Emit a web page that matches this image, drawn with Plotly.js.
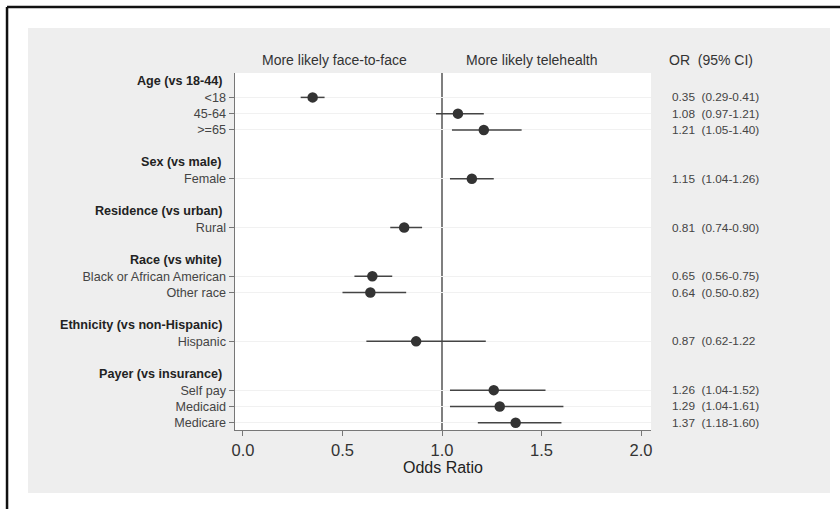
<!DOCTYPE html>
<html><head><meta charset="utf-8">
<script src="https://cdn.plot.ly/plotly-3.0.1.min.js"></script>
<style>html,body{margin:0;padding:0;background:#fff}</style>
</head><body><div id="chart" style="width:840px;height:509px"></div>
<script>
// Groups (header rows) and items
const groupHeaders = ["Age (vs 18-44)", "Sex (vs male)", "Residence (vs urban)", "Race (vs white)", "Ethnicity (vs non-Hispanic)", "Payer (vs insurance)"];
const groupRows = [0, 5, 8, 11, 15, 18];
const labels = ["<18", "45-64", ">=65", "Female", "Rural", "Black or African American", "Other race", "Hispanic", "Self pay", "Medicaid", "Medicare"];
const rows = [1, 2, 3, 6, 9, 12, 13, 16, 19, 20, 21];
const orValues = [0.35, 1.08, 1.21, 1.15, 0.81, 0.65, 0.64, 0.87, 1.26, 1.29, 1.37];
const ciLow = [0.29, 0.97, 1.05, 1.04, 0.74, 0.56, 0.50, 0.62, 1.04, 1.04, 1.18];
const ciHigh = [0.41, 1.21, 1.40, 1.26, 0.90, 0.75, 0.82, 1.22, 1.52, 1.61, 1.60];
const orText = ["0.35\u00a0\u00a0(0.29-0.41)", "1.08\u00a0\u00a0(0.97-1.21)", "1.21\u00a0\u00a0(1.05-1.40)", "1.15\u00a0\u00a0(1.04-1.26)", "0.81\u00a0\u00a0(0.74-0.90)", "0.65\u00a0\u00a0(0.56-0.75)", "0.64\u00a0\u00a0(0.50-0.82)", "0.87\u00a0\u00a0(0.62-1.22", "1.26\u00a0\u00a0(1.04-1.52)", "1.29\u00a0\u00a0(1.04-1.61)", "1.37\u00a0\u00a0(1.18-1.60)"];
const xTicks = [0, 0.5, 1, 1.5, 2];
const xTickText = ["0.0", "0.5", "1.0", "1.5", "2.0"];

const FONT = "Liberation Sans, Arial, sans-serif";

const trace = {
  type: "scatter", mode: "markers",
  x: orValues, y: rows,
  marker: {size: 10.5, color: "#333333"},
  error_x: {
    type: "data", symmetric: false,
    array: orValues.map((v, i) => ciHigh[i] - v),
    arrayminus: orValues.map((v, i) => v - ciLow[i]),
    color: "#444444", thickness: 1.5, width: 0
  },
  hoverinfo: "skip", showlegend: false
};

const annotations = [];
groupHeaders.forEach((h, i) => annotations.push({
  xref: "paper", yref: "y", x: 0, y: groupRows[i], xanchor: "right", yanchor: "middle",
  xshift: -11, text: "<b>" + h + "</b>", showarrow: false,
  font: {family: FONT, size: 12.6, color: "#222"}
}));
orText.forEach((t, i) => annotations.push({
  xref: "paper", yref: "y", x: 1.0457, y: rows[i], xanchor: "left", yanchor: "middle",
  text: t, showarrow: false, font: {family: FONT, size: 11.8, color: "#444"}
}));
annotations.push({xref: "paper", yref: "paper", x: 0.24, y: 1.036, xanchor: "center", yanchor: "middle",
  text: "More likely face-to-face", showarrow: false, font: {family: FONT, size: 14, color: "#333"}});
annotations.push({xref: "paper", yref: "paper", x: 0.714, y: 1.036, xanchor: "center", yanchor: "middle",
  text: "More likely telehealth", showarrow: false, font: {family: FONT, size: 14, color: "#333"}});
annotations.push({xref: "paper", yref: "paper", x: 1.038, y: 1.036, xanchor: "left", yanchor: "middle",
  text: "OR\u00a0\u00a0(95% CI)", showarrow: false, font: {family: FONT, size: 14, color: "#333"}});

const layout = {
  width: 840, height: 509,
  margin: {l: 235, r: 189, t: 73, b: 79},
  paper_bgcolor: "#ffffff", plot_bgcolor: "#ffffff",
  font: {family: FONT, color: "#444"},
  xaxis: {
    range: [-0.04, 2.05], tickvals: xTicks, ticktext: xTickText,
    showgrid: false, zeroline: false, showline: true, linecolor: "#777", linewidth: 1,
    ticks: "outside", ticklen: 5, tickcolor: "#777",
    tickfont: {family: FONT, size: 16.5, color: "#333"},
    title: {text: "Odds Ratio", font: {family: FONT, size: 16, color: "#222"}, standoff: 0}
  },
  yaxis: {
    range: [21.45, -0.5], tickvals: rows, ticktext: labels,
    showgrid: true, gridcolor: "#f1f1f1", gridwidth: 1, zeroline: false,
    showline: true, linecolor: "#777", linewidth: 1.5,
    ticks: "outside", ticklen: 5, tickcolor: "#777",
    tickfont: {family: FONT, size: 12.6, color: "#444"}
  },
  shapes: [
    {type: "rect", xref: "paper", yref: "paper", x0: -0.4976, x1: 1.4303, y0: -0.1765, y1: 1.126,
     fillcolor: "#eeeeee", line: {width: 0}, layer: "below"},
    {type: "rect", xref: "paper", yref: "paper", x0: 0, x1: 1, y0: 0, y1: 1,
     fillcolor: "#ffffff", line: {width: 0}, layer: "below"},
    {type: "line", xref: "paper", yref: "paper", x0: -0.548, x1: -0.548, y0: -0.23, y1: 1.1849,
     line: {color: "#111", width: 2.5}},
    {type: "line", xref: "paper", yref: "paper", x0: -0.548, x1: 1.46, y0: 1.1849, y1: 1.1849,
     line: {color: "#111", width: 2.5}},
    {type: "line", xref: "x", yref: "paper", x0: 1, x1: 1, y0: 0, y1: 1,
     line: {color: "#555", width: 1.5}, layer: "below"}
  ],
  annotations: annotations
};

Plotly.newPlot("chart", [trace], layout, {displayModeBar: false, staticPlot: true});
</script></body></html>
